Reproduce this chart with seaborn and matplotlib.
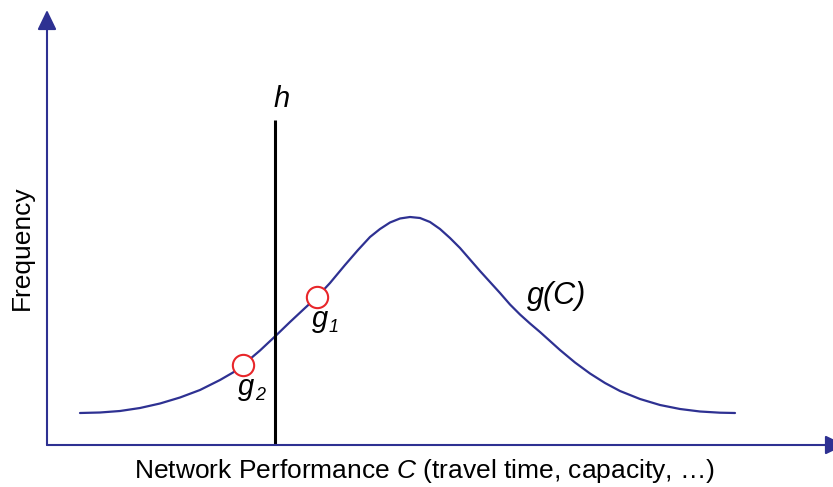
import matplotlib
matplotlib.use("Agg")
import matplotlib.pyplot as plt
import seaborn as sns
import pandas as pd

# Performance distribution g(C): points along the curve (C, frequency)
perf = [33, 53, 73, 93, 113, 133, 153, 173, 186, 196, 213, 229, 243, 258, 270,
        283, 298, 311, 323, 333, 343, 353, 363, 373, 383, 393, 403, 413,
        423, 433, 443, 453, 463, 473, 483, 493, 503, 513, 528, 543, 558,
        573, 593, 613, 633, 653, 673, 688]
freq = [32, 32.5, 34, 37, 41.5, 47.5, 55, 65, 72.5, 80, 94.5, 109.5, 123, 137, 148,
        162, 180, 195, 208, 216, 222.5, 226.5, 228, 227, 223, 216, 207, 197,
        185.5, 174, 163, 152, 140.5, 130.5, 121.5, 113, 104, 95, 82.5, 71.5,
        62, 54, 46, 40, 36, 33.5, 32.3, 32]

# Threshold h and the two highlighted samples
h_pos = 228
h_top = 325
samples = ["g1", "g2"]
sample_perf = [270, 196]
sample_freq = [148, 80]

navy = "#2e3192"
red = "#e8262a"

sns.set_theme(style="white")
plt.rcParams["font.family"] = ["Liberation Sans", "DejaVu Sans"]
plt.rcParams["text.color"] = "black"
plt.rcParams["mathtext.fontset"] = "custom"
plt.rcParams["mathtext.rm"] = "Liberation Sans"
plt.rcParams["mathtext.it"] = "Liberation Sans:italic"

fig = plt.figure(figsize=(8.33, 4.87), dpi=100)
ax = fig.add_axes([0, 0, 1, 1])
ax.set_xlim(-47, 786)
ax.set_ylim(-42, 445)
ax.axis("off")

curve = pd.DataFrame({"C": perf, "g": freq})
sns.lineplot(data=curve, x="C", y="g", sort=False, color=navy, lw=1.6, ax=ax)
for ln in ax.get_lines():
    ln.set_solid_joinstyle("round")

# axes with arrow heads
arrow = dict(arrowstyle="-|>,head_length=1.2,head_width=0.58", color=navy,
             lw=1.5, mutation_scale=10, shrinkA=0, shrinkB=0)
ax.annotate("", xy=(0, 435), xytext=(0, 0), arrowprops=arrow, annotation_clip=False)
ax.annotate("", xy=(798, 0), xytext=(0, 0), arrowprops=arrow, annotation_clip=False)

# threshold line h
ax.plot([h_pos, h_pos], [0, h_top], color="black", lw=2.2, solid_capstyle="butt")
ax.text(h_pos + 7, 346, "h", style="italic", fontsize=21, ha="center", va="center")

pts = pd.DataFrame({"C": sample_perf, "g": sample_freq, "name": samples})
sns.scatterplot(data=pts, x="C", y="g", s=235, facecolor="white",
                edgecolor=red, linewidth=1.5, zorder=5, ax=ax)

# sample labels g1 / g2
for c, f, name in zip(sample_perf, sample_freq, samples):
    ax.text(c + 3, f - 22, "g", style="italic", fontsize=21, ha="center", va="center")
    ax.text(c + 17, f - 31, name[1], style="italic", fontsize=13, ha="center", va="center")

ax.text(510, 149, "g(C)", style="italic", fontsize=22, ha="center", va="center")

ax.text(-25, 197, "Frequency", rotation=90, fontsize=19, ha="center", va="center")
ax.text(377, -26, "Network Performance $C$ (travel time, capacity, …)",
        fontsize=19, ha="center", va="center")

fig.savefig("out.png", dpi=100, facecolor="white")
